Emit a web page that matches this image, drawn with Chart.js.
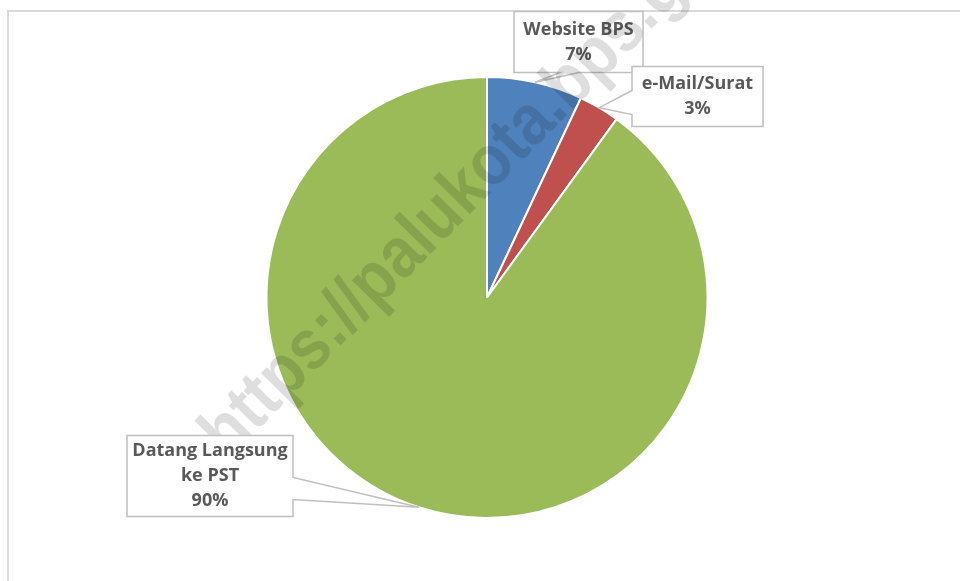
<!DOCTYPE html>
<html>
<head>
<meta charset="utf-8">
<script src="https://cdn.jsdelivr.net/npm/chart.js@4.4.0/dist/chart.umd.min.js"></script>
<style>
    body { margin: 0; background: #ffffff; }
    #wrap { width: 960px; height: 581px; }
</style>
</head>
<body>
<div id="wrap"><canvas id="pieChart" width="960" height="581"></canvas></div>
<script>
// Data
const categories = ["Website BPS", "e-Mail/Surat", "Datang Langsung ke PST"];
const labelLines = [["Website BPS"], ["e-Mail/Surat"], ["Datang Langsung", "ke PST"]];
const shares = [7, 3, 90];
const sliceColors = ["#4F81BD", "#C0504D", "#9BBB59"];

// Callout boxes, offsets from the pie centre (pixels)
// overMark: box is painted over the watermark
const callouts = [
    { left: 27, top: -286, w: 129, h: 61, side: "bottom", notch: [46, 65], overMark: false },
    { left: 145, top: -231, w: 131, h: 60, side: "left", notch: [24, 48], overMark: false },
    { left: -360, top: 138, w: 166, h: 81, side: "right", notch: [42, 64], overMark: true }
];

const watermark = "https://palukota.bps.go.id";

function drawCallout(ctx, arc, i, total) {
    const p = arc.getProps(["x", "y", "startAngle", "endAngle", "outerRadius"], true);
    const mid = (p.startAngle + p.endAngle) / 2;
    const tipX = p.x + Math.cos(mid) * p.outerRadius;
    const tipY = p.y + Math.sin(mid) * p.outerRadius;
    const c = callouts[i];
    const x0 = p.x + c.left, y0 = p.y + c.top;
    const x1 = x0 + c.w, y1 = y0 + c.h;

    ctx.save();
    ctx.beginPath();
    ctx.moveTo(x0, y0);
    ctx.lineTo(x1, y0);
    if (c.side === "right") {
        ctx.lineTo(x1, y0 + c.notch[0]);
        ctx.lineTo(tipX, tipY);
        ctx.lineTo(x1, y0 + c.notch[1]);
    }
    ctx.lineTo(x1, y1);
    if (c.side === "bottom") {
        ctx.lineTo(x0 + c.notch[1], y1);
        ctx.lineTo(tipX, tipY);
        ctx.lineTo(x0 + c.notch[0], y1);
    }
    ctx.lineTo(x0, y1);
    if (c.side === "left") {
        ctx.lineTo(x0, y0 + c.notch[1]);
        ctx.lineTo(tipX, tipY);
        ctx.lineTo(x0, y0 + c.notch[0]);
    }
    ctx.closePath();
    ctx.fillStyle = "#ffffff";
    ctx.fill();
    ctx.strokeStyle = "#bfbfbf";
    ctx.lineWidth = 1.5;
    ctx.stroke();

    // text
    const lines = [...labelLines[i], Math.round(shares[i] / total * 100) + "%"];
    ctx.fillStyle = "#595959";
    ctx.font = "bold 18px 'Open Sans'";
    ctx.textAlign = "center";
    ctx.textBaseline = "middle";
    const lh = 25;
    const cx = (x0 + x1) / 2;
    const startY = (y0 + y1) / 2 - (lines.length - 1) * lh / 2;
    lines.forEach((t, k) => ctx.fillText(t, cx, startY + k * lh));
    ctx.restore();
}

// draws the frame, callout labels and watermark
const calloutPlugin = {
    id: "callouts",
    beforeDraw(chart) {
        const ctx = chart.ctx;
        ctx.save();
        ctx.strokeStyle = "#d9d9d9";
        ctx.lineWidth = 2;
        ctx.beginPath();
        ctx.moveTo(8, 590);
        ctx.lineTo(8, 11);
        ctx.lineTo(970, 11);
        ctx.stroke();
        ctx.restore();
    },
    afterDatasetsDraw(chart) {
        const ctx = chart.ctx;
        const arcs = chart.getDatasetMeta(0).data;
        const total = shares.reduce((a, b) => a + b, 0);

        arcs.forEach((arc, i) => { if (!callouts[i].overMark) drawCallout(ctx, arc, i, total); });

        // watermark
        ctx.save();
        ctx.translate(228, 460);
        ctx.rotate(-45.5 * Math.PI / 180);
        ctx.scale(0.89, 1);
        ctx.font = "bold 71px 'Liberation Sans'";
        ctx.fillStyle = "rgba(0, 0, 0, 0.13)";
        ctx.textAlign = "left";
        ctx.textBaseline = "alphabetic";
        ctx.fillText(watermark, 0, 0);
        ctx.restore();

        arcs.forEach((arc, i) => { if (callouts[i].overMark) drawCallout(ctx, arc, i, total); });
    }
};

new Chart(document.getElementById("pieChart"), {
    type: "pie",
    data: {
        labels: categories,
        datasets: [{
            data: shares,
            backgroundColor: sliceColors,
            borderColor: "#ffffff",
            borderWidth: 2
        }]
    },
    options: {
        responsive: false,
        animation: false,
        layout: { padding: { top: 76, bottom: 62, left: 14, right: 0 } },
        plugins: {
            legend: { display: false },
            tooltip: { enabled: false }
        }
    },
    plugins: [calloutPlugin]
});
</script>
</body>
</html>
